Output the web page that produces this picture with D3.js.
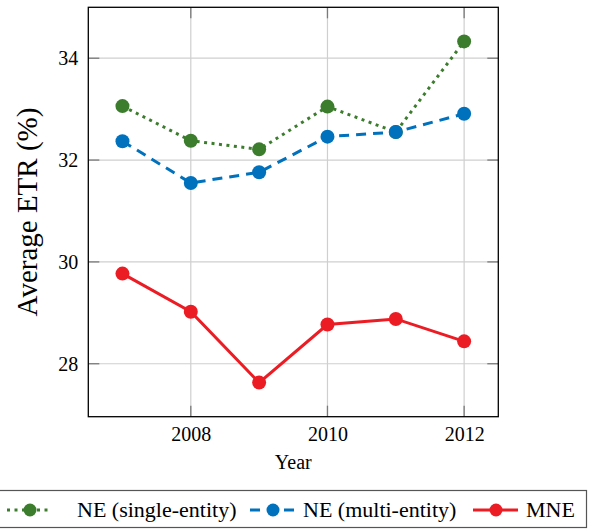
<!DOCTYPE html>
<html>
<head>
<meta charset="utf-8">
<script src="https://cdn.jsdelivr.net/npm/d3@7"></script>
<style>
  body { margin: 0; background: #fff; }
  svg { display: block; }
  svg text { font-family: "Liberation Serif", "Times New Roman", "DejaVu Serif", serif; }
</style>
</head>
<body>
<svg id="chart" width="589" height="529"></svg>
<script>
"use strict";

// data
var years = [2007, 2008, 2009, 2010, 2011, 2012];
var singleEntity = [33.06, 32.38, 32.21, 33.05, 32.55, 34.33];
var multiEntity = [32.37, 31.55, 31.76, 32.46, 32.55, 32.91];
var mne = [29.77, 29.02, 27.63, 28.77, 28.88, 28.44];
var seriesNames = ["NE (single-entity)", "NE (multi-entity)", "MNE"];
var xTicks = [2008, 2010, 2012];
var yTicks = [28, 30, 32, 34];

var styles = [
    { color: "#3c7d2d", dash: "3,4.5", legendX: 7, text: 77 },
    { color: "#0071bc", dash: "10,7", legendX: 250, text: 303 },
    { color: "#ec1c24", dash: null, legendX: 473, text: 526 }
];
var seriesData = [singleEntity, multiEntity, mne];

var svg = d3.select("#chart");
var plotLeft = 88.3, plotRight = 498.3, plotTop = 7.3, plotBottom = 416.7;

var x = d3.scaleLinear().domain([2006.5, 2012.5]).range([plotLeft, plotRight]);
var y = d3.scaleLinear().domain([26.96, 35.0]).range([plotBottom, plotTop]);

// grid
svg.append("g").selectAll("line").data(xTicks).enter().append("line")
    .attr("x1", d => x(d)).attr("x2", d => x(d))
    .attr("y1", plotTop).attr("y2", plotBottom)
    .attr("stroke", "#cfcfcf").attr("stroke-width", 1.2);
svg.append("g").selectAll("line").data(yTicks).enter().append("line")
    .attr("x1", plotLeft).attr("x2", plotRight)
    .attr("y1", d => y(d)).attr("y2", d => y(d))
    .attr("stroke", "#cfcfcf").attr("stroke-width", 1.2);

// inner tick marks on all four sides
var tickLen = 11;
var tickG = svg.append("g").attr("stroke", "#7a7a7a").attr("stroke-width", 1.3);
xTicks.forEach(function (t) {
    tickG.append("line").attr("x1", x(t)).attr("x2", x(t)).attr("y1", plotBottom).attr("y2", plotBottom - tickLen);
    tickG.append("line").attr("x1", x(t)).attr("x2", x(t)).attr("y1", plotTop).attr("y2", plotTop + tickLen);
});
yTicks.forEach(function (t) {
    tickG.append("line").attr("x1", plotLeft).attr("x2", plotLeft + tickLen).attr("y1", y(t)).attr("y2", y(t));
    tickG.append("line").attr("x1", plotRight).attr("x2", plotRight - tickLen).attr("y1", y(t)).attr("y2", y(t));
});

// tick labels through d3 axes
var xAxis = svg.append("g").attr("transform", "translate(0," + plotBottom + ")")
    .call(d3.axisBottom(x).tickValues(xTicks).tickSize(0).tickPadding(10).tickFormat(d3.format("d")));
var yAxis = svg.append("g").attr("transform", "translate(" + plotLeft + ",0)")
    .call(d3.axisLeft(y).tickValues(yTicks).tickSize(0).tickPadding(10).tickFormat(d3.format("d")));
[xAxis, yAxis].forEach(function (a) {
    a.attr("font-family", null).attr("font-size", 20);
    a.select(".domain").remove();
    a.selectAll("text").attr("fill", "#000");
});

// frame
svg.append("rect").attr("x", plotLeft).attr("y", plotTop)
    .attr("width", plotRight - plotLeft).attr("height", plotBottom - plotTop)
    .attr("fill", "none").attr("stroke", "#000").attr("stroke-width", 1.3);

// series
var line = d3.line().x((d, i) => x(years[i])).y(d => y(d));
seriesData.forEach(function (vals, k) {
    var s = styles[k];
    var g = svg.append("g");
    g.append("path").datum(vals).attr("d", line)
        .attr("fill", "none").attr("stroke", s.color).attr("stroke-width", 3)
        .attr("stroke-dasharray", s.dash);
    g.selectAll("circle").data(vals).enter().append("circle")
        .attr("cx", (d, i) => x(years[i])).attr("cy", d => y(d))
        .attr("r", 7).attr("fill", s.color);
});

// axis titles
svg.append("text").attr("x", (plotLeft + plotRight) / 2).attr("y", 469)
    .attr("text-anchor", "middle").attr("font-size", 20).text("Year");
svg.append("text").attr("transform", "translate(37," + ((plotTop + plotBottom) / 2) + ") rotate(-90)")
    .attr("text-anchor", "middle").attr("font-size", 29).text("Average ETR (%)");

// legend
svg.append("rect").attr("x", -2).attr("y", 490.5).attr("width", 588.5).attr("height", 37)
    .attr("fill", "#fff").attr("stroke", "#555").attr("stroke-width", 1.2);
var ly = 510;
styles.forEach(function (s, k) {
    var g = svg.append("g");
    g.append("line").attr("x1", s.legendX).attr("x2", s.legendX + 45)
        .attr("y1", ly).attr("y2", ly)
        .attr("stroke", s.color).attr("stroke-width", 3).attr("stroke-dasharray", s.dash);
    g.append("circle").attr("cx", s.legendX + 23).attr("cy", ly).attr("r", 6.5).attr("fill", s.color);
    g.append("text").attr("x", s.text).attr("y", ly + 7)
        .attr("font-size", 22).text(seriesNames[k]);
});
</script>
</body>
</html>
